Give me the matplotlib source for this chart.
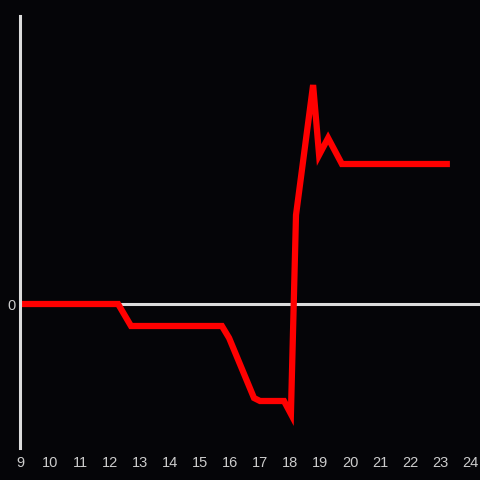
import numpy as np
import matplotlib.pyplot as plt

# hours of day vs. value (arbitrary units)
hours = [9.0, 12.27, 12.7, 15.73, 15.97, 16.8, 17.0, 17.8, 18.03, 18.2,
         18.77, 18.97, 19.27, 19.73, 23.33]
values = [0.0, 0.0, -2.2, -2.2, -3.4, -9.4, -9.7, -9.7, -11.0, 8.9,
          21.9, 14.9, 16.6, 14.0, 14.0]
xticks = list(range(9, 25))

bg = '#050508'
fg = '#dcdcdc'

fig = plt.figure(figsize=(4.8, 4.8), dpi=100, facecolor=bg)
ax = fig.add_axes([20/480, 32/480, 460/480, 432/480])
ax.set_facecolor(bg)

ax.axhline(0, color=fg, lw=2.2, zorder=1)
ax.plot(hours, values, color='#ff0000', lw=4.5, solid_joinstyle='miter',
        solid_capstyle='butt', zorder=2)

ax.set_xlim(9, 24.333)
ax.set_ylim(-14.4, 28.8)
ax.set_xticks(xticks)
ax.set_yticks([0])

for s in ['top', 'right', 'bottom']:
    ax.spines[s].set_visible(False)
ax.spines['left'].set_color(fg)
ax.spines['left'].set_linewidth(2.2)

ax.tick_params(length=0, colors='#cccccc', labelsize=10.5)
ax.tick_params(axis='x', pad=6)
ax.tick_params(axis='y', pad=3)
labels = ax.get_xticklabels() + ax.get_yticklabels()
[label.set_fontname('Liberation Sans') for label in labels]

fig.savefig('out.png', facecolor=bg)
